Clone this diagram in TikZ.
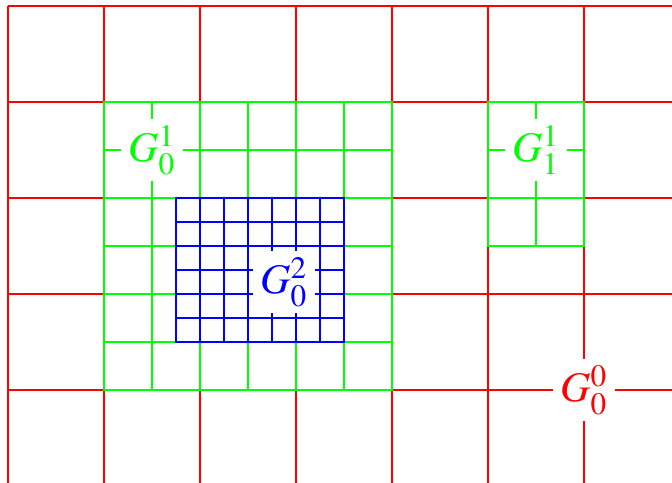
\documentclass[tikz,border=0pt]{standalone}
\usepackage{mathptmx}
\usepackage{tikz}

\begin{document}
\begin{tikzpicture}[
    x=1cm, y=1cm,
    level0/.style={draw=red, line width=0.35pt},
    level1/.style={draw=green, line width=0.35pt},
    level2/.style={draw=blue, line width=0.35pt},
    gridlabel/.style={fill=white, inner sep=0pt, minimum size=0.65cm, font=\fontsize{12.5pt}{14pt}\selectfont}
]
    \useasboundingbox (-0.0833,0.0313) rectangle (6.9167,5.0625);

    % coarse grid
    \draw [level0, step=1] (0,0.0313) grid (6.9167,5);
    % refined patches
    \draw [level1, step=0.5] (0.999,0.999) grid (4.001,4.001) (1,1) rectangle (4,4);
    \draw [level1, step=0.5] (4.999,2.499) grid (6.001,4.001) (5,2.5) rectangle (6,4);
    \draw [level2, step=0.25] (1.749,1.499) grid (3.501,3.001) (1.75,1.5) rectangle (3.5,3);

    \node (g00) [gridlabel, text=red] at (6,1) {$G_0^0$};
    \node (g01) [gridlabel, text=green] at (1.5,3.5) {$G_0^1$};
    \node (g11) [gridlabel, text=green] at (5.5,3.5) {$G_1^1$};
    \node (g02) [gridlabel, text=blue] at (2.875,2.125) {$G_0^2$};
\end{tikzpicture}
\end{document}
